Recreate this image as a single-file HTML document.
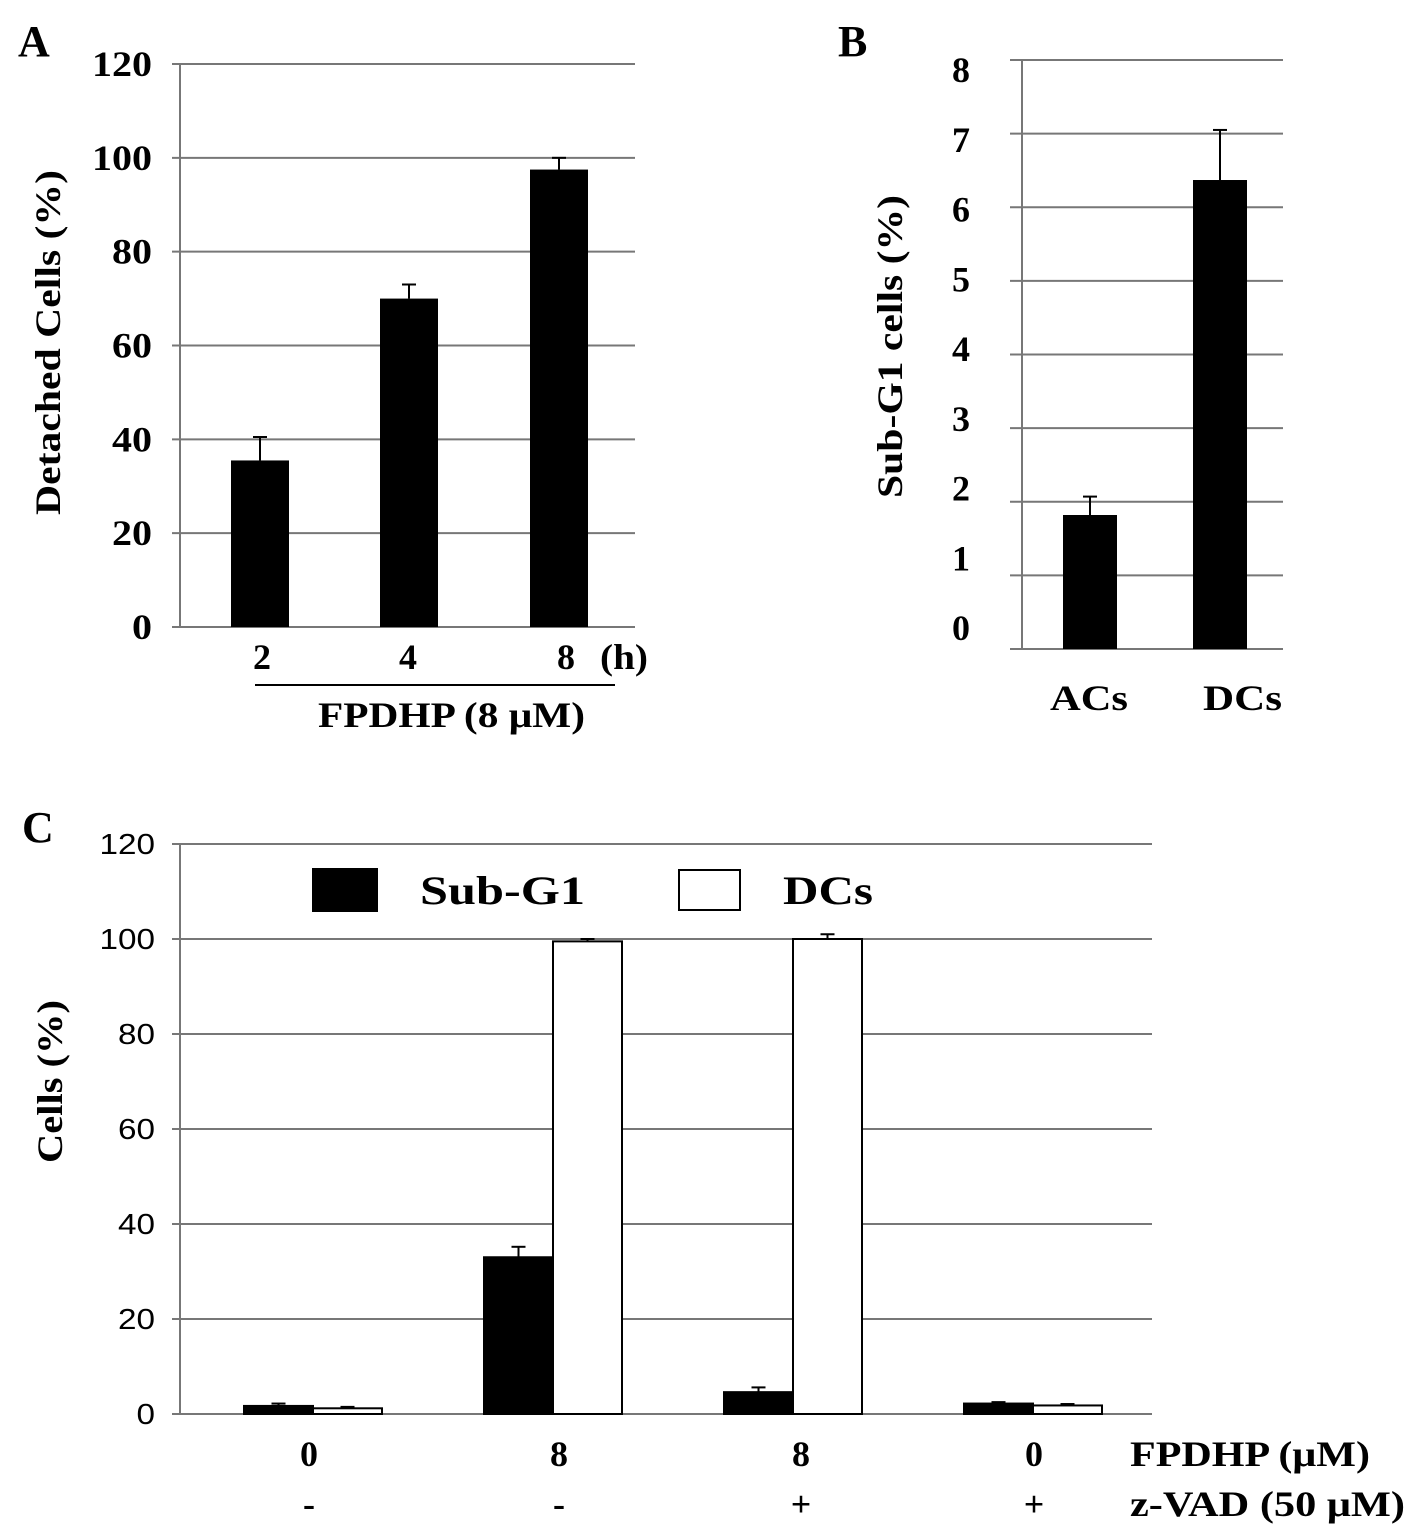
<!DOCTYPE html>
<html><head><meta charset="utf-8"><style>
body{margin:0;background:#fff;}
svg{display:block}
.s{font-family:"Liberation Serif",serif;font-weight:bold;}
.a{font-family:"Liberation Sans",sans-serif;}
</style></head><body>
<svg id="fig" width="1417" height="1537" viewBox="0 0 1417 1537" xmlns="http://www.w3.org/2000/svg">
<text class="s" x="18" y="56" font-size="44">A</text>
<text class="s" x="838" y="56" font-size="44">B</text>
<text class="s" x="22" y="842" font-size="44">C</text>
<g id="A"></g><g id="B"></g><g id="C"></g>
</svg>
<script>
const NS="http://www.w3.org/2000/svg";
function el(p,t,a,txt){const e=document.createElementNS(NS,t);for(const k in a)e.setAttribute(k,a[k]);if(txt!==undefined)e.textContent=txt;p.appendChild(e);return e;}
function fit(e,len){e.setAttribute('textLength',len);e.setAttribute('lengthAdjust','spacingAndGlyphs');}

// Panel A data
const aCats=["2","4","8"];
const aVals=[35.5,70,97.5];
const aErr=[5,3,2.5];
const aTicks=[0,20,40,60,80,100,120];
// Panel B data
const bCats=["ACs","DCs"];
const bVals=[1.82,6.37];
const bErr=[0.25,0.68];
const bTicks=[0,1,2,3,4,5,6,7,8];
// Panel C data
const cCats=["0","8","8","0"];
const cZvad=["-","-","+","+"];
const cSub=[1.7,33,4.6,2.2];
const cSubErr=[0.5,2.2,1,0.3];
const cDC=[1.2,99.5,100,1.8];
const cDCErr=[0.3,0.5,1,0.3];
const cTicks=[0,20,40,60,80,100,120];

// ---- A ----
(function(){
const g=document.getElementById('A');
const y=v=>627-v*(563/120);
aTicks.forEach(t=>{
 const l=el(g,'line',{x1:172,x2:635,y1:y(t),y2:y(t),stroke:'#777','stroke-width':2});
 
 const tx=el(g,'text',{x:152,y:y(t)+12,'text-anchor':'end','font-size':36,class:'s'},String(t));
 fit(tx,String(t).length*20);
 
});
const ax=el(g,'line',{x1:180,x2:180,y1:y(120),y2:627,stroke:'#777','stroke-width':2});

const cx=[260,409,559],bw=58;
aCats.forEach((c,i)=>{
 const e=el(g,'line',{x1:cx[i],x2:cx[i],y1:y(aVals[i]+aErr[i]),y2:y(aVals[i]),stroke:'#000','stroke-width':2});
 
 const cap=el(g,'line',{x1:cx[i]-7,x2:cx[i]+7,y1:y(aVals[i]+aErr[i]),y2:y(aVals[i]+aErr[i]),stroke:'#000','stroke-width':2});
 
 const r=el(g,'rect',{x:cx[i]-bw/2,y:y(aVals[i]),width:bw,height:627-y(aVals[i]),fill:'#000'});
 
 const t=el(g,'text',{x:[262,408,566][i],y:669,'text-anchor':'middle','font-size':36,class:'s'},c);
 
});
const h=el(g,'text',{x:600,y:669,'font-size':36,class:'s'},'(h)');fit(h,48);

const u=el(g,'line',{x1:255,x2:615,y1:685,y2:685,stroke:'#000','stroke-width':2});

const xt=el(g,'text',{x:318,y:727,'font-size':36,class:'s'},'FPDHP (8 μM)');fit(xt,267);

const yt=el(g,'text',{x:0,y:0,'font-size':36,class:'s',transform:'translate(60,515) rotate(-90)'},'Detached Cells (%)');fit(yt,345);

})();

// ---- B ----
(function(){
const g=document.getElementById('B');
const y=v=>649-v*(589/8);
const ly=v=>628-v*69.75;
bTicks.forEach(t=>{
 const l=el(g,'line',{x1:1010,x2:1283,y1:y(t),y2:y(t),stroke:'#777','stroke-width':2});
 
 const tx=el(g,'text',{x:970,y:ly(t)+12,'text-anchor':'end','font-size':36,class:'s'},String(t));
 
});
const ax=el(g,'line',{x1:1022,x2:1022,y1:y(8),y2:649,stroke:'#777','stroke-width':2});

const cx=[1090,1220],bw=54;
bCats.forEach((c,i)=>{
 const e=el(g,'line',{x1:cx[i],x2:cx[i],y1:y(bVals[i]+bErr[i]),y2:y(bVals[i]),stroke:'#000','stroke-width':2});
 
 const cap=el(g,'line',{x1:cx[i]-7,x2:cx[i]+7,y1:y(bVals[i]+bErr[i]),y2:y(bVals[i]+bErr[i]),stroke:'#000','stroke-width':2});
 
 const r=el(g,'rect',{x:cx[i]-bw/2,y:y(bVals[i]),width:bw,height:649-y(bVals[i]),fill:'#000'});
 
 const t=el(g,'text',{x:[1050,1203][i],y:710,'font-size':36,class:'s'},c);fit(t,[78,79][i]);
 
});
const yt=el(g,'text',{x:0,y:0,'font-size':36,class:'s',transform:'translate(902,498) rotate(-90)'},'Sub-G1 cells (%)');fit(yt,303);

})();

// ---- C ----
(function(){
const g=document.getElementById('C');
const y=v=>1414-v*(570/120);
cTicks.forEach(t=>{
 const l=el(g,'line',{x1:172,x2:1152,y1:y(t),y2:y(t),stroke:'#777','stroke-width':2});
 
 const tx=el(g,'text',{x:155,y:y(t)+10,'text-anchor':'end','font-size':29,class:'a'},String(t));
 fit(tx,String(t).length*18.5);
 
});
const ax=el(g,'line',{x1:180,x2:180,y1:y(120),y2:1414,stroke:'#777','stroke-width':2});

const gx=[313,553,793,1033],bw=69;
cCats.forEach((c,i)=>{
 [[cSub,cSubErr,'#000',-1,'sub-g1'],[cDC,cDCErr,'#fff',0,'dcs']].forEach(([v,er,f,off,nm])=>{
  const x0=gx[i]+off*bw, cxm=x0+bw/2;
  const r=el(g,'rect',{x:x0,y:y(v[i]),width:bw,height:1414-y(v[i]),fill:f,stroke:'#000','stroke-width':2});
  
  const e=el(g,'line',{x1:cxm,x2:cxm,y1:y(v[i]+er[i]),y2:y(v[i]),stroke:'#000','stroke-width':2});
  
  const cap=el(g,'line',{x1:cxm-7,x2:cxm+7,y1:y(v[i]+er[i]),y2:y(v[i]+er[i]),stroke:'#000','stroke-width':2});
  
 });
 const cxl=[309,559,801,1034][i];
 const t=el(g,'text',{x:cxl,y:1466,'text-anchor':'middle','font-size':36,class:'s'},c);
 
 const z=el(g,'text',{x:cxl,y:1516,'text-anchor':'middle','font-size':36,class:'s'},cZvad[i]);
 
});
const f=el(g,'text',{x:1130,y:1466,'font-size':36,class:'s'},'FPDHP (μM)');fit(f,240);

const z=el(g,'text',{x:1130,y:1516,'font-size':36,class:'s'},'z-VAD (50 μM)');fit(z,275);

const l1=el(g,'rect',{x:312,y:868,width:66,height:44,fill:'#000'});

const t1=el(g,'text',{x:420,y:904,'font-size':40,class:'s'},'Sub-G1');fit(t1,165);

const l2=el(g,'rect',{x:679,y:870,width:61,height:40,fill:'#fff',stroke:'#000','stroke-width':2});

const t2=el(g,'text',{x:783,y:904,'font-size':40,class:'s'},'DCs');fit(t2,90);

const yt=el(g,'text',{x:0,y:0,'font-size':36,class:'s',transform:'translate(62,1163) rotate(-90)'},'Cells (%)');fit(yt,163);

})();
</script>
</body></html>
